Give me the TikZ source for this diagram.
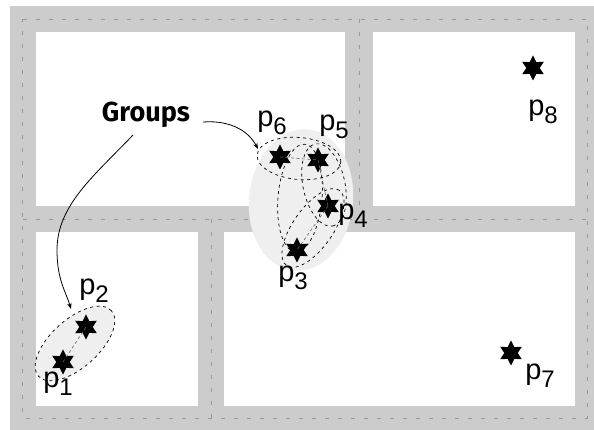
\documentclass[tikz,border=0pt]{standalone}
\usepackage{fontspec}
\setmainfont{Liberation Sans}
\newfontfamily\grpfont{Fira Sans}
\usetikzlibrary{shapes.geometric,arrows.meta}
\definecolor{bggray}{HTML}{CCCCCC}
\definecolor{gridgray}{HTML}{999999}
\definecolor{blobgray}{HTML}{EFEFEF}
\newcommand\lsub[1]{\raisebox{-8pt}{\fontsize{24}{24}\selectfont #1}}
\tikzset{
  panel/.style={fill=white, draw=none},
  gridline/.style={draw=gridgray, line width=0.9pt, dash pattern=on 4pt off 9pt},
  starnode/.style={star, star points=6, star point ratio=1.85, minimum size=25pt, inner sep=0pt, fill=black, draw=none},
  lbl/.style={inner sep=0pt, font=\fontsize{29}{29}\selectfont},
  grp/.style={draw=black, line width=0.7pt, dash pattern=on 3pt off 3.5pt},
  link/.style={draw=black!60, line width=0.6pt, dash pattern=on 3pt off 2.5pt},
  callout/.style={draw=black, line width=0.8pt, -{Stealth[length=6pt,width=4.5pt]}}
}
\begin{document}
\begin{tikzpicture}[x=1pt,y=1pt]
\useasboundingbox (0,0) rectangle (594,430);
% background
\fill[bggray] (10,0) rectangle (594,424);
% panels
\fill[white] (36,224) rectangle (345,398);
\fill[white] (373,224) rectangle (575,398);
\fill[white] (36,24) rectangle (198,198);
\fill[white] (224,24) rectangle (575,198);
% dashed grid
\coordinate (g1) at (22.5,411);
\coordinate (g2) at (587,411);
\coordinate (g3) at (587,12);
\coordinate (g4) at (22.5,12);
\draw[gridline] (g1) -- (g2) -- (g3) -- (g4) -- cycle;
\coordinate (gv1) at (359,411);
\coordinate (gv2) at (359,211);
\draw[gridline] (gv1) -- (gv2);
\coordinate (gh1) at (22.5,211);
\coordinate (gh2) at (587,211);
\draw[gridline] (gh1) -- (gh2);
\coordinate (gb1) at (211,211);
\coordinate (gb2) at (211,12);
\draw[gridline] (gb1) -- (gb2);
% blob for the cluster
\fill[blobgray, rotate around={-6:(301,230)}] (301,230) ellipse [x radius=52, y radius=71];
% ellipse around p1 p2
\path[fill=blobgray] (75,86.5) ellipse [x radius=49, y radius=24, rotate=42];
\draw[grp] (75,86.5) ellipse [x radius=49, y radius=24, rotate=42];
% stars
\node[starnode] (p1) at (63,68) {};
\node[starnode] (p2) at (86,103) {};
\node[starnode] (p3) at (297,180) {};
\node[starnode] (p4) at (328,224) {};
\node[starnode] (p5) at (318,270) {};
\node[starnode] (p6) at (280,273) {};
\node[starnode] (p7) at (511,77) {};
\node[starnode] (p8) at (533,362) {};
% links
\draw[link] (p1.center) -- (p2.center);
\draw[link] (p6.center) -- (p5.center);
\draw[link] (p5.center) -- (p4.center);
\draw[link] (p4.center) -- (p3.center);
% dashed group ellipses in the cluster
\draw[grp] (299,271.5) ellipse [x radius=42, y radius=21, rotate=-5];
\draw[grp] (324,245) ellipse [x radius=42, y radius=21, rotate=-78];
\draw[grp] (313,202) ellipse [x radius=46, y radius=20, rotate=55];
\draw[grp] (300,232) ellipse [x radius=54, y radius=22, rotate=-95];
% labels
\node[lbl] (l1) at (58,46) {p\lsub{1}};
\node[lbl] (l2) at (94,139) {p\lsub{2}};
\node[lbl] (l3) at (293,152) {p\lsub{3}};
\node[lbl] (l4) at (353,214) {p\lsub{4}};
\node[lbl] (l5) at (334,303) {p\lsub{5}};
\node[lbl] (l6) at (272,307) {p\lsub{6}};
\node[lbl] (l7) at (540,54) {p\lsub{7}};
\node[lbl] (l8) at (543,318) {p\lsub{8}};
% callout text
\node[inner sep=0pt] (groups) at (146,315) {\resizebox{88pt}{19.5pt}{\grpfont\bfseries Groups}};
\coordinate (a1s) at (203,308);
\coordinate (a1e) at (258,281);
\draw[callout] (a1s) .. controls (232,310) and (249,298) .. (a1e);
\coordinate (a2s) at (133,295);
\coordinate (a2m) at (57,180);
\coordinate (a2e) at (71,121);
\draw[callout] (a2s) .. controls (95,255) and (57,225) .. (a2m) .. controls (57,150) and (66,138) .. (a2e);
\end{tikzpicture}
\end{document}
